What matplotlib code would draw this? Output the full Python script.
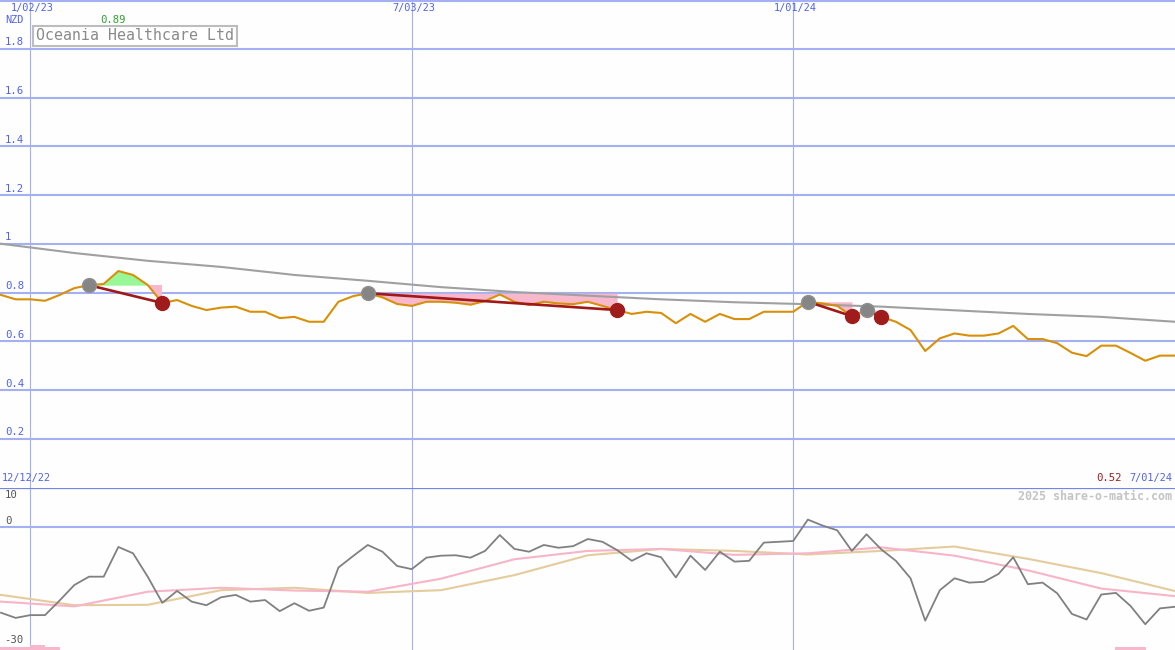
import numpy as np
import matplotlib

matplotlib.use("Agg")
import matplotlib.pyplot as plt

# weekly closes (NZD)
price = [0.79, 0.772, 0.772, 0.766, 0.79, 0.818, 0.83, 0.835, 0.888, 0.872,
         0.831, 0.757, 0.769, 0.745, 0.728, 0.738, 0.742, 0.721, 0.721, 0.695,
         0.70, 0.68, 0.68, 0.762, 0.785, 0.797, 0.78, 0.753, 0.745, 0.762,
         0.762, 0.758, 0.75, 0.765, 0.792, 0.762, 0.749, 0.762, 0.755, 0.752,
         0.762, 0.745, 0.728, 0.712, 0.721, 0.716, 0.674, 0.712, 0.68, 0.712,
         0.691, 0.691, 0.721, 0.721, 0.721, 0.762, 0.755, 0.745, 0.703, 0.728,
         0.70, 0.68, 0.646, 0.56, 0.612, 0.632, 0.623, 0.623, 0.632, 0.663,
         0.609, 0.609, 0.592, 0.553, 0.539, 0.582, 0.582, 0.552, 0.52, 0.541,
         0.541]

# long trend line, read every 5 weeks
trend_idx = [0, 5, 10, 15, 20, 25, 30, 35, 40, 45, 50, 55, 60, 65, 70, 75, 80]
trend = [1.0, 0.962, 0.93, 0.905, 0.872, 0.848, 0.822, 0.802, 0.787, 0.772,
         0.76, 0.752, 0.742, 0.727, 0.712, 0.70, 0.68]

# trades: (buy week, sell week)
trades = [(6, 11), (25, 42), (55, 58), (59, 60)]

# lower panel
momentum = [-21.6, -22.9, -22.2, -22.2, -18.5, -14.6, -12.5, -12.5, -5.0, -6.6,
            -12.5, -19.1, -16.1, -18.8, -19.7, -17.7, -17.1, -18.8, -18.4, -21.2,
            -19.2, -21.1, -20.3, -10.2, -7.3, -4.5, -6.2, -9.8, -10.6, -7.7,
            -7.2, -7.1, -7.7, -6.0, -2.0, -5.5, -6.2, -4.5, -5.2, -4.8,
            -3.0, -3.7, -5.8, -8.5, -6.6, -7.6, -12.7, -7.2, -10.8, -6.2,
            -8.7, -8.5, -3.9, -3.7, -3.5, 1.9, 0.4, -0.8, -6.0, -1.8,
            -5.6, -8.5, -12.9, -23.6, -15.9, -12.9, -14.0, -13.8, -11.8, -7.6,
            -14.4, -14.0, -16.7, -21.9, -23.3, -17.0, -16.6, -19.9, -24.5, -20.5,
            -20.1]
avg_idx = [0, 5, 10, 15, 20, 25, 30, 35, 40, 45, 50, 55, 60, 65, 70, 75, 80]
fast_avg = [-18.8, -20.0, -16.3, -15.3, -16.0, -16.3, -13.0, -8.1, -6.0, -5.5,
            -7.0, -6.6, -5.1, -7.2, -10.9, -15.5, -17.4]
slow_avg = [-17.1, -19.7, -19.6, -15.9, -15.3, -16.6, -15.9, -12.1, -7.1, -5.5,
            -6.0, -6.9, -6.0, -4.9, -8.0, -11.6, -16.1]

grid_weeks = [2, 28, 54]
grid_dates = ["1/02/23", "7/03/23", "1/01/24"]
price_ticks = [1.8, 1.6, 1.4, 1.2, 1.0, 0.8, 0.6, 0.4, 0.2]
price_tick_labels = ["1.8", "1.6", "1.4", "1.2", "1", "0.8", "0.6", "0.4", "0.2"]

W, H = 1175, 650
BG = "#fdfefd"
GRID = "#a4b0f2"
BLUE_TXT = "#5262ec"
MONO = "DejaVu Sans Mono"
SMALL = 7.4

fig = plt.figure(figsize=(W / 100, H / 100), dpi=100, facecolor=BG)
split = 487.5
ax = fig.add_axes([0, 1 - split / H, 1, split / H], facecolor=BG)
ax2 = fig.add_axes([0, 0, 1, 1 - split / H], facecolor=BG)

x = np.arange(len(price))
xlim = (-1 / 14.67, (W - 1) / 14.67)
for a in (ax, ax2):
    a.set_xlim(*xlim)
    a.axis("off")
    for w in grid_weeks:
        a.axvline(w, color=GRID, lw=0.8, zorder=1)

ax.set_ylim(0, 2.0)
ax2.set_ylim(-31, 10)

for t in price_ticks:
    ax.axhline(t, color=GRID, lw=1.5, zorder=1)
ax.axhline(1.995, color=GRID, lw=1.5, zorder=1)
ax2.axhline(0, color=GRID, lw=1.5, zorder=1)
ax2.axhline(9.9, color="#7484ea", lw=1.6, zorder=5)

price_arr = np.array(price)

# trade shading
for b, s in trades:
    seg = np.arange(b, s + 1)
    level = price_arr[b]
    ax.fill_between(seg, level, price_arr[seg], where=price_arr[seg] >= level,
                    interpolate=True, color="#98f898", lw=0, zorder=2)
    ax.fill_between(seg, level, price_arr[seg], where=price_arr[seg] <= level,
                    interpolate=True, color="#f8b8cc", lw=0, zorder=2)

ax.plot(trend_idx, trend, color="#a0a0a0", lw=1.5, zorder=3)
ax.plot(x, price, color="#d8900a", lw=1.5, zorder=4)

for b, s in trades:
    ax.plot([b, s], [price[b], price[s]], color="#a01818", lw=1.9, zorder=5)
    ax.plot(b, price[b], "o", ms=10, color="#858585", mec="#909090", zorder=6)
    ax.plot(s, price[s], "o", ms=10, color="#a01c1c", mec="#a01c1c", zorder=6)

# tick labels
for t, lab in zip(price_ticks, price_tick_labels):
    ax.annotate(lab, (5 / W, t), xycoords=("axes fraction", "data"),
                xytext=(0, 1.0), textcoords="offset points", va="bottom",
                ha="left", fontsize=SMALL + 0.3, color=BLUE_TXT, family=MONO)


def ptext(px, py, s, **kw):
    fig.text(px / W, 1 - py / H, s, family=MONO, va="center", **kw)


for w, d in zip(grid_weeks, grid_dates):
    ptext(3 + w * 14.67, 8, d, ha="center", fontsize=SMALL, color=BLUE_TXT)
ptext(5, 20, "NZD", ha="left", fontsize=SMALL, color=BLUE_TXT)
ptext(113, 20, "0.89", ha="center", fontsize=SMALL + 0.3, color="#30a030")
fig.text(36 / W, 1 - 36 / H, "Oceania Healthcare Ltd", family=MONO,
         fontsize=10.7, color="#8a8a8a", va="center", ha="left",
         bbox=dict(boxstyle="square,pad=0.2", fc="white", ec="#bdbdbd", lw=1.5))
ptext(2, 478, "12/12/22", ha="left", fontsize=SMALL, color=BLUE_TXT)
ptext(1172, 478, "7/01/24", ha="right", fontsize=SMALL, color=BLUE_TXT)
ptext(1122, 478, "0.52", ha="right", fontsize=SMALL + 0.3, color="#a01c1c")
ptext(1172, 496, "2025 share-o-matic.com", ha="right", fontsize=8.4,
      color="#c4c4c4", weight="bold")
ptext(5, 495, "10", ha="left", fontsize=SMALL + 0.3, color="#555555")
ptext(5, 521, "0", ha="left", fontsize=SMALL + 0.3, color="#555555")
ptext(4, 640, "-30", ha="left", fontsize=SMALL + 0.3, color="#555555")

# lower panel
ax2.bar([2.0, 2.5], [0.7, 1.3], bottom=-31, width=[4.1, 1.0], color="#f8b8cc",
        lw=0, zorder=2)
ax2.bar([77.0], [0.8], bottom=-31, width=2.1, color="#f8b8cc", lw=0, zorder=2)
ax2.plot(avg_idx, slow_avg, color="#e4cc9c", lw=1.5, zorder=3)
ax2.plot(avg_idx, fast_avg, color="#f8b4c8", lw=1.5, zorder=3)
ax2.plot(x, momentum, color="#808080", lw=1.3, zorder=4)

fig.savefig("out.png", dpi=100, facecolor=BG)
